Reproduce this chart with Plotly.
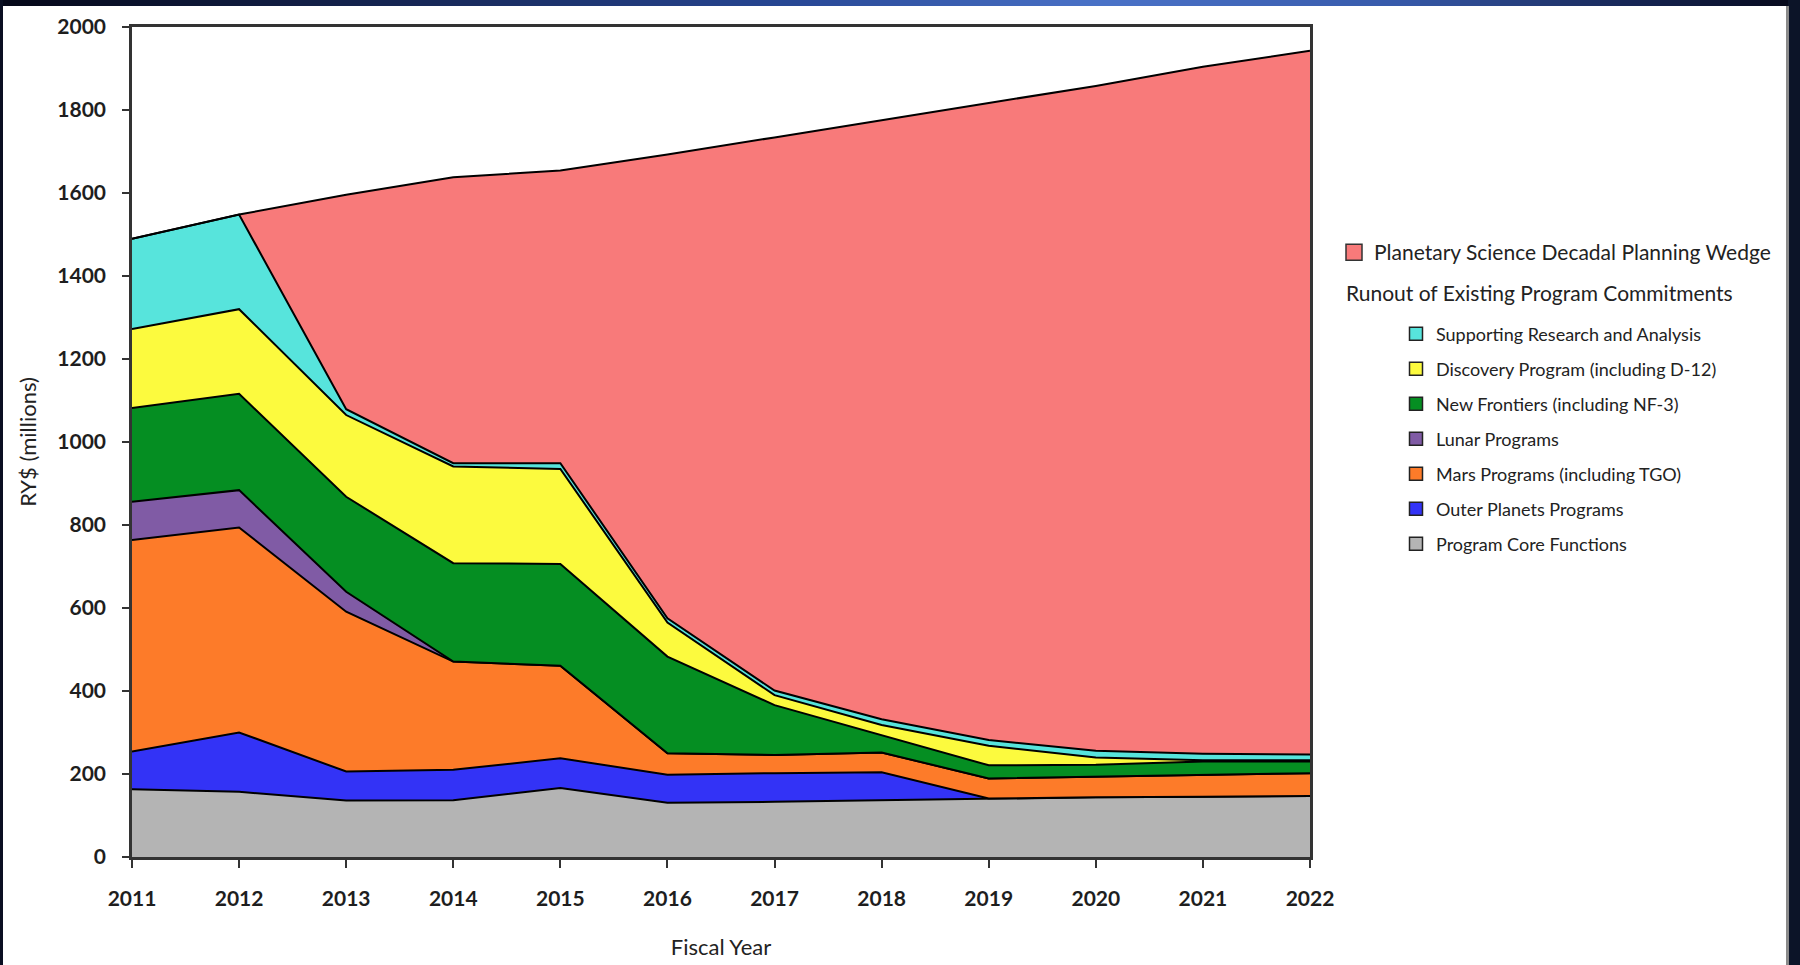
import plotly.graph_objects as go

years = [2011, 2012, 2013, 2014, 2015, 2016, 2017, 2018, 2019, 2020, 2021, 2022]

core_functions = [163, 157, 136, 137, 166, 131, 133, 137, 141, 144, 145, 147]
outer_planets = [91, 143, 70, 73, 72, 67, 69, 67, 0, 0, 0, 0]
mars = [510, 494, 385, 261, 223, 52, 44, 48, 48, 49, 53, 55]
lunar = [92, 90, 48, 0, 0, 0, 0, 0, 0, 0, 0, 0]
new_frontiers = [226, 232, 229, 237, 245, 233, 120, 42, 32, 29, 32, 28]
discovery = [190, 204, 197, 233, 229, 82, 24, 24, 47, 18, 3, 3]
research = [218, 228, 14, 8, 14, 10, 11, 14, 14, 16, 16, 14]
wedge = [0, 0, 517, 689, 705, 1118, 1333, 1444, 1535, 1602, 1655, 1696]

y_ticks = [0, 200, 400, 600, 800, 1000, 1200, 1400, 1600, 1800, 2000]

series = [
    ("Program Core Functions", core_functions, "#B4B4B4"),
    ("Outer Planets Programs", outer_planets, "#3333F6"),
    ("Mars Programs (including TGO)", mars, "#FD7B29"),
    ("Lunar Programs", lunar, "#805BA5"),
    ("New Frontiers (including NF-3)", new_frontiers, "#058E22"),
    ("Discovery Program (including D-12)", discovery, "#FCFA3E"),
    ("Supporting Research and Analysis", research, "#57E4DC"),
    ("Planetary Science Decadal Planning Wedge", wedge, "#F87A7A"),
]

fig = go.Figure()
for name, vals, col in series:
    fig.add_trace(go.Scatter(
        x=years, y=vals, name=name, stackgroup="one", mode="lines",
        line=dict(color="black", width=2, shape="linear"),
        fillcolor=col, showlegend=False, hoverinfo="skip",
    ))

# legend entries (square swatches)
name, vals, col = series[-1]
fig.add_trace(go.Scatter(
    x=[None], y=[None], mode="markers", name=name, legend="legend",
    marker=dict(symbol="square", size=16, color=col, line=dict(color="#333", width=1.5)),
))
for name, vals, col in reversed(series[:-1]):
    fig.add_trace(go.Scatter(
        x=[None], y=[None], mode="markers", name=name, legend="legend2",
        legendgroup=name,
        marker=dict(symbol="square", size=13, color=col, line=dict(color="#222", width=1.5)),
    ))

L, R, T, B = 132, 1310, 27, 857
W, H = 1800, 965


def px(xp):
    return (xp - L) / (R - L)


def py(yp):
    return (B - yp) / (B - T)


shapes = []
# top gradient band
stops = [(0, (5, 8, 24)), (400, (22, 38, 84)), (800, (40, 72, 150)), (1100, (75, 115, 200)),
         (1400, (55, 90, 170)), (1650, (20, 34, 78)), (1800, (5, 8, 24))]
step = 20
for x0 in range(0, W, step):
    xm = x0 + step / 2
    for i in range(len(stops) - 1):
        a, ca = stops[i]
        b, cb = stops[i + 1]
        if a <= xm <= b:
            t = (xm - a) / (b - a)
            c = tuple(int(ca[k] + (cb[k] - ca[k]) * t) for k in range(3))
            break
    shapes.append(dict(type="rect", xref="paper", yref="paper",
                       x0=px(x0), x1=px(x0 + step + 0.5), y0=py(6), y1=py(-1),
                       fillcolor="rgb(%d,%d,%d)" % c, line=dict(width=0), layer="above"))
# left and right dark edges
shapes.append(dict(type="rect", xref="paper", yref="paper", x0=px(-1), x1=px(3),
                   y0=py(H + 1), y1=py(-1), fillcolor="#0a0f22", line=dict(width=0)))
shapes.append(dict(type="rect", xref="paper", yref="paper", x0=px(1788), x1=px(W + 1),
                   y0=py(H + 1), y1=py(-1), fillcolor="#0c1428", line=dict(width=0)))
shapes.append(dict(type="rect", xref="paper", yref="paper", x0=px(1786), x1=px(1789),
                   y0=py(H + 1), y1=py(6), fillcolor="#8a8a8a", line=dict(width=0)))

fig.update_layout(
    width=W, height=H,
    margin=dict(l=L, r=W - R, t=T, b=H - B, autoexpand=False),
    paper_bgcolor="white", plot_bgcolor="white",
    font=dict(family="Lato", color="#222"),
    shapes=shapes,
    xaxis=dict(
        range=[2011, 2022], tickmode="array", tickvals=years, ticktext=[str(y) for y in years],
        showgrid=False, zeroline=False, showline=True, mirror=True,
        linecolor="#333", linewidth=2.5, ticks="outside", ticklen=8, tickwidth=2,
        tickcolor="#333", ticklabelstandoff=13,
        tickfont=dict(family="Lato", size=21, color="#1e1e1e", weight="bold"),
        title=dict(text="Fiscal Year", font=dict(family="Lato", size=22, color="#222"), standoff=31),
    ),
    yaxis=dict(
        range=[0, 2000], tickmode="array", tickvals=y_ticks,
        showgrid=False, zeroline=False, showline=True, mirror=True,
        linecolor="#333", linewidth=2.5, ticks="outside", ticklen=7, tickwidth=2,
        tickcolor="#333", ticklabelstandoff=12,
        tickfont=dict(family="Lato", size=21, color="#1e1e1e", weight="bold"),
        title=dict(text="RY$ (millions)", font=dict(family="Lato", size=22, color="#222"), standoff=15),
    ),
    legend=dict(
        xref="container", yref="container", x=1334 / W, y=1 - 232 / H,
        xanchor="left", yanchor="top", bgcolor="rgba(0,0,0,0)",
        font=dict(family="Lato", size=21, color="#222"), itemsizing="trace",
    ),
    legend2=dict(
        xref="container", yref="container", x=1396 / W, y=1 - 315.5 / H,
        xanchor="left", yanchor="top", bgcolor="rgba(0,0,0,0)",
        font=dict(family="Lato", size=18, color="#222"), itemsizing="trace",
        tracegroupgap=8.6, traceorder="grouped",
    ),
    annotations=[dict(
        text="Runout of Existing Program Commitments", xref="paper", yref="paper",
        x=px(1344), y=py(292), xanchor="left", yanchor="middle", showarrow=False,
        font=dict(family="Lato", size=21, color="#222"),
    )],
)

fig.write_html("out.html", config={"displayModeBar": False},
               post_script="document.body.style.margin='0';")
